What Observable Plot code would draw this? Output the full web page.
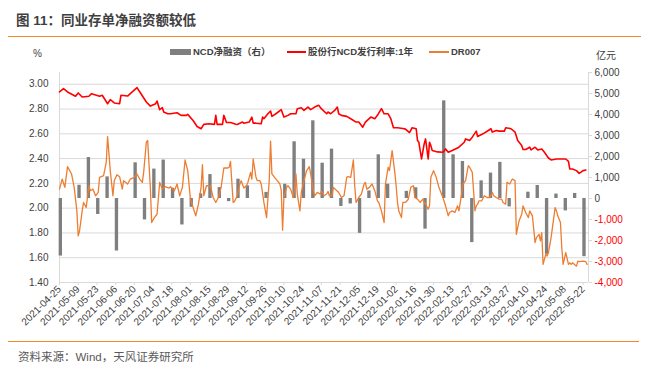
<!DOCTYPE html>
<html><head><meta charset="utf-8">
<script src="https://cdn.jsdelivr.net/npm/d3@7"></script>
<script src="https://cdn.jsdelivr.net/npm/@observablehq/plot@0.6"></script>
<style>
body{margin:0;background:#fff;}
#wrap{position:relative;width:649px;height:371px;overflow:hidden;font-family:"Liberation Sans","Noto Sans CJK SC",sans-serif;}
#wrap svg{position:absolute;left:0;top:0;}
.abs{position:absolute;white-space:nowrap;}
</style></head><body><div id="wrap"></div>
<script>
// ---- data ----
const startDate = "2021-04-25";           // first week / first day of the series
const endDate = "2022-05-26";             // right edge of the date axis
// NCD 净融资 (亿元), weekly, one value per week starting 2021-04-25
const ncdNet = [-2740, 0, 630, 1950, -760, 1030, -2500, 0, 1700, -1020,
  1400, 1830, 490, -1260, -420, 220, 1140, 520, -150, 920,
  600, 0, 290, 0, 680, 2700, 1870, 3700, 1680, 2350,
  -380, -260, -1660, 360, 2080, 680, 0, 340, 510, -1460,
  0, 4650, 2080, 1760, -2100, 840, 1210, 1720, -400, 0,
  300, 620, -2660, 210, -590, 240, -2770];
// 股份行NCD发行利率:1年 (%), days since startDate
const ncdRateDays = [0,3,6,12,14,17,22,24,30,32,36,38,41,45,46,51,53,58,61,65,68,72,73,75,77,78,81,83,88,91,95,96,100,103,106,108,112,116,117,118,122,123,125,128,132,133,137,138,142,144,145,147,151,152,153,156,158,159,162,166,168,171,173,177,178,181,183,186,188,191,194,196,200,201,203,206,208,209,211,215,218,222,224,227,229,233,236,238,241,243,246,248,250,253,257,259,262,264,267,268,269,271,273,274,276,277,278,279,283,287,289,291,294,299,303,304,307,309,312,313,317,321,323,324,327,329,333,334,338,341,343,346,347,349,352,353,356,358,361,363,366,368,372,377,379,381,382,384,387,389,392,394];
const ncdRate = [2.938,2.965,2.938,2.903,2.930,2.897,2.903,2.924,2.903,2.911,2.843,2.876,2.849,2.843,2.911,2.905,2.924,2.973,2.924,2.857,2.824,2.843,2.865,2.795,2.811,2.776,2.762,2.762,2.770,2.749,2.749,2.757,2.708,2.659,2.641,2.676,2.681,2.676,2.749,2.676,2.676,2.749,2.692,2.692,2.678,2.676,2.695,2.686,2.695,2.735,2.686,2.686,2.681,2.735,2.722,2.762,2.784,2.741,2.762,2.795,2.735,2.749,2.762,2.762,2.803,2.811,2.789,2.816,2.795,2.816,2.830,2.803,2.762,2.776,2.762,2.789,2.816,2.762,2.749,2.741,2.722,2.695,2.695,2.654,2.695,2.735,2.722,2.749,2.803,2.762,2.762,2.722,2.649,2.649,2.643,2.638,2.610,2.649,2.641,2.546,2.532,2.397,2.519,2.559,2.397,2.532,2.505,2.465,2.454,2.451,2.478,2.451,2.465,2.492,2.532,2.559,2.546,2.573,2.622,2.578,2.600,2.627,2.641,2.614,2.627,2.622,2.622,2.649,2.641,2.614,2.546,2.505,2.473,2.473,2.492,2.470,2.492,2.470,2.478,2.451,2.405,2.389,2.397,2.397,2.397,2.378,2.316,2.316,2.303,2.281,2.303,2.308];
// DR007 (%), days since startDate
const dr007Days = [0,2,4,6,9,11,13,14,15,17,18,20,22,23,25,27,29,30,33,35,36,38,40,41,43,45,47,48,51,53,56,58,60,62,63,65,66,68,69,71,73,75,77,79,82,83,86,88,90,92,94,96,98,100,102,104,106,107,108,110,113,115,117,119,121,123,126,127,128,130,131,133,135,136,138,140,141,143,144,145,147,148,150,151,153,155,157,158,159,161,163,165,166,167,168,170,171,173,175,176,177,178,180,181,183,185,187,188,190,191,193,195,196,198,200,201,202,204,205,207,209,211,213,215,216,218,220,221,222,224,226,228,229,230,232,234,236,238,239,241,243,244,246,247,248,249,251,252,253,254,256,257,259,261,263,265,266,268,270,272,273,274,276,277,278,280,282,284,287,289,291,292,294,296,298,299,301,302,304,306,307,309,311,312,313,314,316,318,320,322,324,325,327,329,331,332,334,335,337,339,341,342,344,346,347,349,351,352,354,356,357,359,360,361,362,364,365,366,368,369,371,372,373,375,376,377,379,381,382,383,384,387,388,389,392,394,395];
const dr007 = [2.154,2.235,2.168,2.335,2.276,2.168,1.978,1.776,1.816,1.978,2.046,2.005,2.181,2.141,2.154,2.100,2.127,2.249,2.262,2.370,2.578,2.303,2.100,2.222,2.270,2.254,2.154,2.222,2.195,2.235,2.249,2.276,2.235,2.208,2.289,2.532,2.546,2.168,1.884,1.924,1.951,2.208,2.154,2.173,2.162,2.173,2.141,2.195,2.100,2.168,2.389,2.303,2.073,2.005,1.938,2.032,2.168,2.351,2.100,2.181,2.181,2.086,2.046,2.086,2.168,2.324,2.324,2.330,2.378,2.046,2.054,2.100,2.195,2.222,2.162,2.181,2.208,2.289,2.235,2.397,2.254,2.222,2.222,2.195,2.046,1.924,2.222,2.541,2.276,2.249,2.222,2.195,2.141,1.822,2.086,2.168,2.181,2.154,2.086,2.168,2.276,2.114,1.978,2.127,2.222,2.303,2.335,2.276,2.141,2.100,2.127,2.114,2.135,2.100,2.114,2.135,2.100,2.100,2.168,2.146,2.127,2.086,2.100,2.249,2.254,2.249,2.389,2.181,2.046,2.086,2.114,2.195,2.208,2.154,2.168,2.195,2.141,2.059,2.046,1.978,1.884,2.195,2.330,2.303,2.384,2.465,2.289,2.181,2.046,1.978,1.924,2.046,2.046,2.070,2.170,2.181,2.086,2.073,2.046,2.073,2.046,2.032,1.992,2.019,2.249,2.303,2.249,2.168,2.086,2.019,1.938,1.965,1.978,1.965,2.019,1.978,2.114,2.195,2.222,2.343,2.330,2.289,1.978,2.019,2.032,2.059,2.059,2.100,2.086,2.086,2.127,2.100,2.086,2.073,2.073,2.046,2.032,2.208,2.195,2.235,2.222,1.789,1.897,1.951,2.019,1.965,1.924,1.978,1.938,1.722,1.762,1.789,1.735,1.803,1.546,1.627,1.614,1.641,1.762,1.843,2.005,1.978,1.938,1.884,1.681,1.546,1.641,1.546,1.559,1.546,1.559,1.532,1.573,1.568,1.573,1.568,1.546];
const xTickLabels = ["2021-04-25","2021-05-09","2021-05-23","2021-06-06","2021-06-20","2021-07-04","2021-07-18","2021-08-01","2021-08-15","2021-08-29","2021-09-12","2021-09-26","2021-10-10","2021-10-24","2021-11-07","2021-11-21","2021-12-05","2021-12-19","2022-01-02","2022-01-16","2022-01-30","2022-02-13","2022-02-27","2022-03-13","2022-03-27","2022-04-10","2022-04-24","2022-05-08","2022-05-22"];
const leftTicks = [1.40, 1.60, 1.80, 2.00, 2.20, 2.40, 2.60, 2.80, 3.00];
const rightTicks = [-4000, -3000, -2000, -1000, 0, 1000, 2000, 3000, 4000, 5000, 6000];
const seriesNames = ["NCD净融资（右）", "股份行NCD发行利率:1年", "DR007"];
const titleText = "图 11：同业存单净融资额较低";
const sourceText = "资料来源：Wind，天风证券研究所";

// ---- helpers ----
const DAY = 86400000;
const t0 = new Date(startDate + "T00:00:00Z");
const dayToDate = d => new Date(t0.getTime() + d * DAY);
const leftMin = 1.4, leftMax = 3.095;             // left axis extent
const rightMin = -4000, rightMax = 6000;           // right axis extent
const toLeft = v => leftMin + (v - rightMin) / (rightMax - rightMin) * (leftMax - leftMin);
const fmtR = v => d3.format(",")(v).replace("\u2212", "-");

const bars = ncdNet.map((v, i) => ({date: dayToDate(7 * i + 1), v})).filter(d => d.v !== 0);
const red = ncdRateDays.map((d, i) => ({date: dayToDate(d), v: ncdRate[i]}));
const orange = dr007Days.map((d, i) => ({date: dayToDate(d), v: dr007[i]}));
const xTicks = xTickLabels.map(s => new Date(s + "T00:00:00Z"));
const xStart = t0, xEnd = new Date(endDate + "T00:00:00Z");

const GREY = "#7F7F7F", RED = "#FF0000", ORANGE = "#ED7D31", AXIS = "#BFBFBF", TXT = "#404040";

const chart = Plot.plot({
  width: 649, height: 371,
  marginTop: 72, marginBottom: 89, marginLeft: 59, marginRight: 61,
  style: {fontFamily: "'Liberation Sans','Noto Sans CJK SC',sans-serif", fontSize: "10px", color: TXT, background: "transparent"},
  x: {type: "utc", domain: [xStart, xEnd]},
  y: {domain: [leftMin, leftMax]},
  marks: [
    Plot.gridY(leftTicks.slice(1), {stroke: "#D9D9D9", strokeOpacity: 1}),
    Plot.ruleY([leftMin], {stroke: "#D9D9D9"}),
    Plot.ruleX([xStart], {stroke: "#D9D9D9"}),
    Plot.ruleX([xEnd], {stroke: "#D9D9D9"}),
    Plot.axisY({ticks: leftTicks, tickFormat: d3.format(".2f"), tickSize: 0, tickPadding: 11, fill: TXT, label: null}),
    Plot.axisY({anchor: "right", ticks: rightTicks.map(toLeft), tickFormat: () => "", tickSize: 3, stroke: "#D9D9D9", label: null}),
    Plot.text(rightTicks.filter(d => d < 0), {y: d => toLeft(d), text: d => fmtR(d), frameAnchor: "right", dx: 6, textAnchor: "start", fill: RED}),
    Plot.text(rightTicks.filter(d => d >= 0), {y: d => toLeft(d), text: d => fmtR(d), frameAnchor: "right", dx: 6, textAnchor: "start", fill: TXT}),
    Plot.axisX({ticks: xTicks, tickFormat: d3.utcFormat("%Y-%m-%d"), tickRotate: -45, tickSize: 3, tickPadding: 2, stroke: "#D9D9D9", fill: TXT, label: null}),
    Plot.rect(bars, {x1: d => new Date(d.date.getTime() - 1.25 * DAY), x2: d => new Date(d.date.getTime() + 1.25 * DAY), y1: d => toLeft(0), y2: d => toLeft(d.v), fill: GREY}),
    Plot.line(red, {x: "date", y: "v", stroke: RED, strokeWidth: 1.6}),
    Plot.line(orange, {x: "date", y: "v", stroke: ORANGE, strokeWidth: 1.3})
  ]
});

const wrap = document.getElementById("wrap");
wrap.appendChild(chart);

function addDiv(style, text) {
  const el = document.createElement("div");
  el.className = "abs";
  Object.assign(el.style, style);
  if (text != null) el.textContent = text;
  wrap.appendChild(el);
  return el;
}
// title + rules
addDiv({left: "16px", top: "13px", fontSize: "13.5px", fontWeight: "bold", color: "#3F3F3F", lineHeight: "16px"}, titleText);
addDiv({left: "8px", top: "35.5px", width: "633px", height: "1.4px", background: "#F08A24"});
addDiv({left: "8px", top: "341px", width: "631px", height: "1.4px", background: "#F08A24"});
addDiv({left: "18px", top: "350px", fontSize: "11.5px", color: "#595959", lineHeight: "15px"}, sourceText);
// unit labels
addDiv({left: "33px", top: "47px", fontSize: "10px", color: TXT, lineHeight: "14px"}, "%");
addDiv({left: "596px", top: "49px", fontSize: "10px", color: TXT, lineHeight: "14px"}, "亿元");
// legend
addDiv({left: "170px", top: "49px", width: "21px", height: "6px", background: GREY});
addDiv({left: "193px", top: "46px", fontSize: "9.5px", fontWeight: "bold", color: TXT, lineHeight: "12px"}, seriesNames[0]);
addDiv({left: "287px", top: "51.2px", width: "19px", height: "1.6px", background: RED});
addDiv({left: "308px", top: "46px", fontSize: "9.5px", fontWeight: "bold", color: TXT, lineHeight: "12px"}, seriesNames[1]);
addDiv({left: "429px", top: "51.3px", width: "20px", height: "1.4px", background: ORANGE});
addDiv({left: "451px", top: "46px", fontSize: "9.5px", fontWeight: "bold", color: TXT, lineHeight: "12px"}, seriesNames[2]);
</script></body></html>
